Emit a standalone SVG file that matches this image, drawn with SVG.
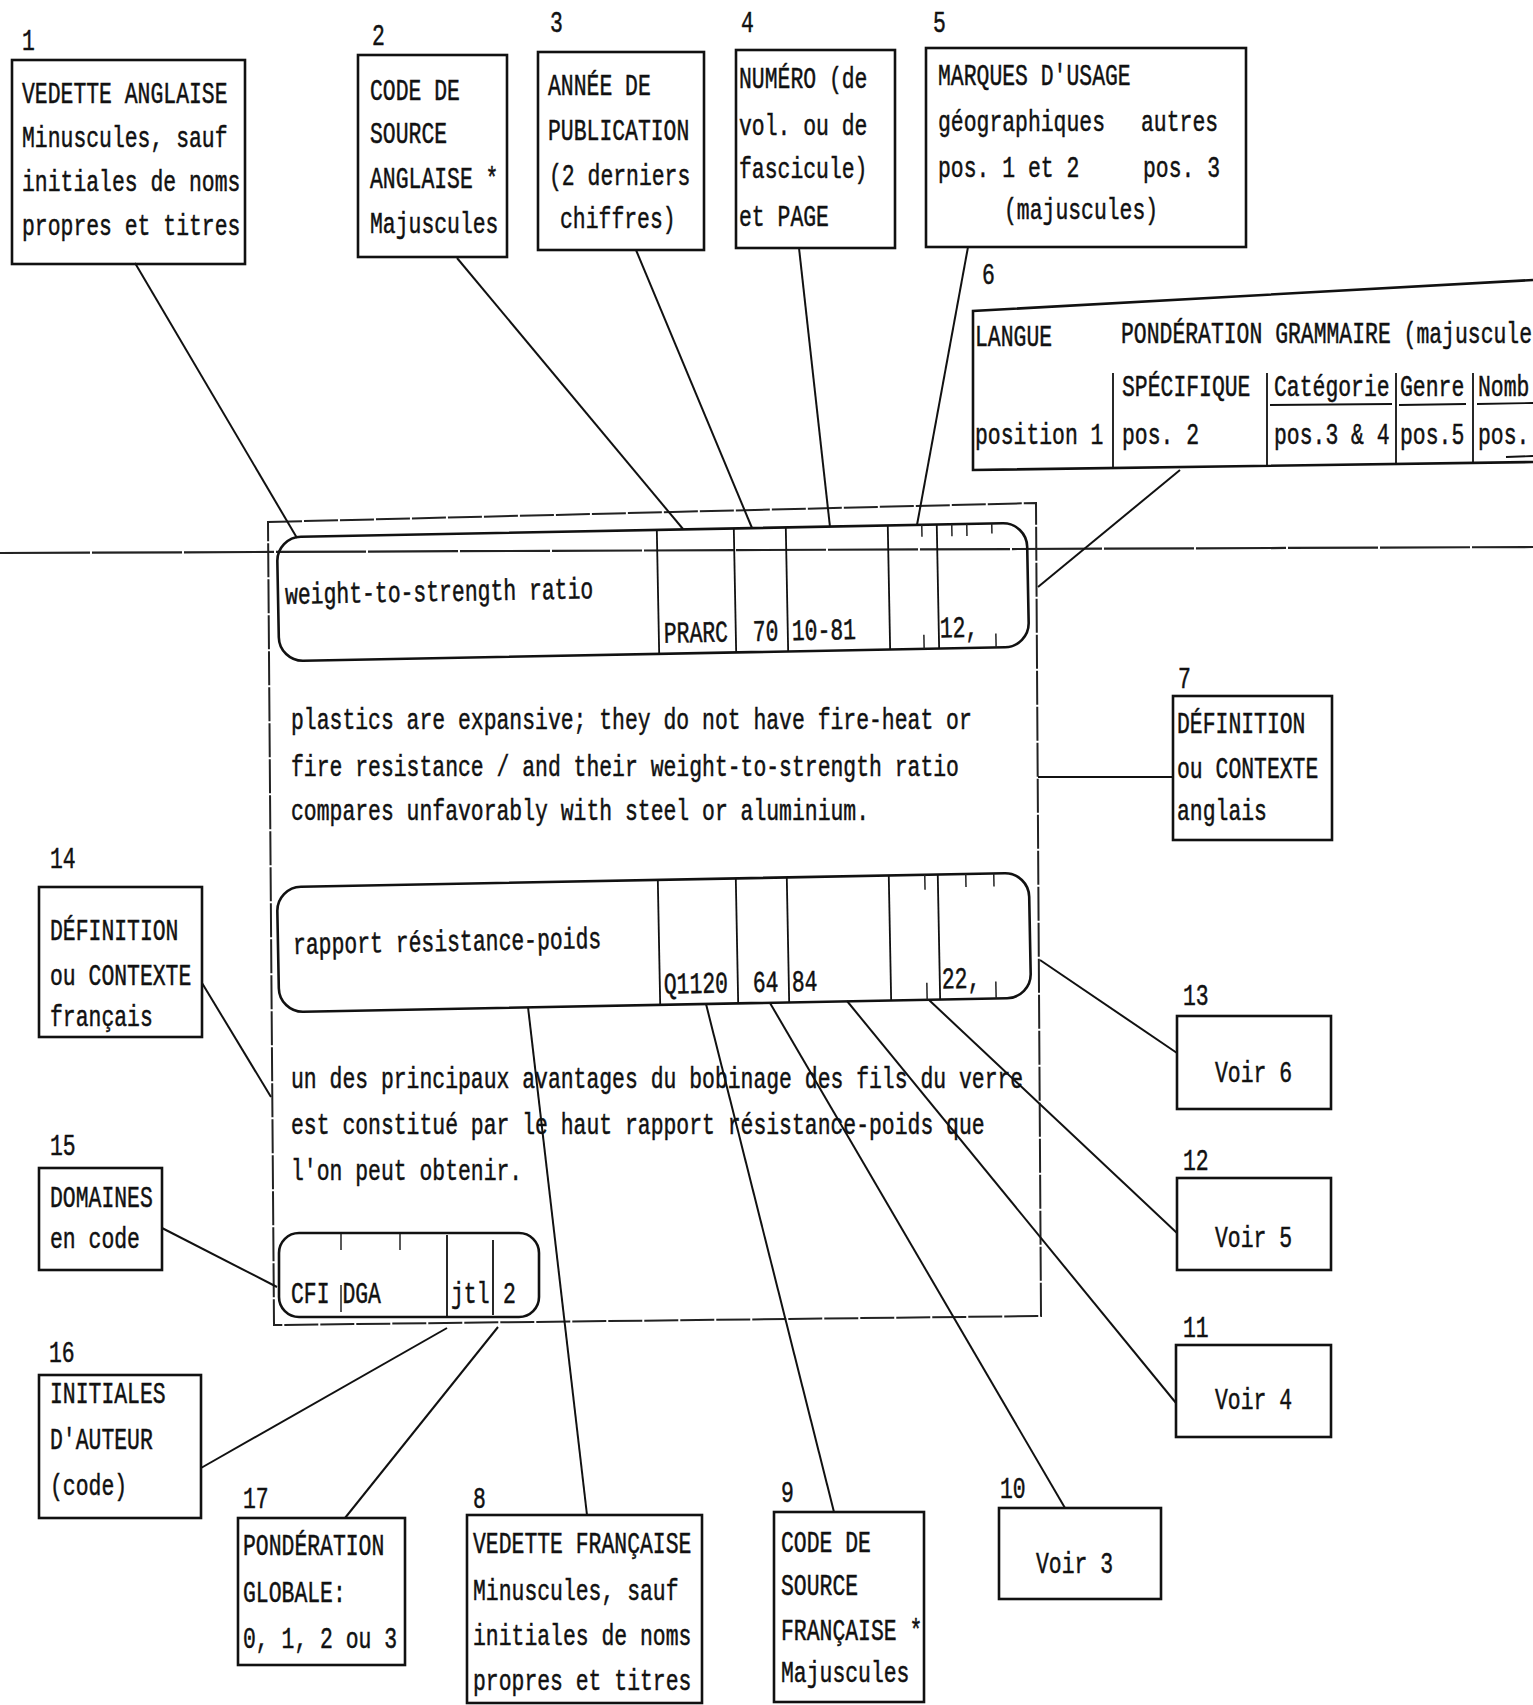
<svg xmlns="http://www.w3.org/2000/svg" width="1533" height="1705" viewBox="0 0 1533 1705">
<style>
.bx{fill:none;stroke:#111;stroke-width:2.6}
.fr{fill:none;stroke:#222;stroke-width:2;stroke-dasharray:34 2}
.dv{stroke:#111;stroke-width:1.8}
.tk{stroke:#222;stroke-width:1.5}
.ln{stroke:#111;stroke-width:2;fill:none}
.pl{stroke:#222;stroke-width:2.2;stroke-dasharray:90 2}
text{font-family:"Liberation Mono","DejaVu Sans Mono",monospace;font-size:30px;fill:#111;stroke:#111;stroke-width:0.5}
</style>
<rect width="1533" height="1705" fill="#fff"/>

<line class="pl" x1="0" y1="553" x2="1533" y2="547"/>
<polygon id="frame" class="fr" points="268,522 1036,503 1041,1316 274,1325"/>

<g id="connectors">
<line class="ln" x1="135" y1="263" x2="297" y2="538"/>
<line class="ln" x1="457" y1="258" x2="683" y2="529"/>
<line class="ln" x1="636" y1="250" x2="752" y2="528"/>
<line class="ln" x1="799" y1="248" x2="830" y2="527"/>
<line class="ln" x1="968" y1="247" x2="917" y2="525"/>
<line class="ln" x1="1180" y1="470" x2="1038" y2="587"/>
<line class="ln" x1="1038" y1="777" x2="1173" y2="777"/>
<line class="ln" x1="1040" y1="960" x2="1177" y2="1053"/>
<line class="ln" x1="929" y1="1000" x2="1177" y2="1233"/>
<line class="ln" x1="847" y1="1001" x2="1176" y2="1403"/>
<line class="ln" x1="770" y1="1003" x2="1065" y2="1508"/>
<line class="ln" x1="706" y1="1004" x2="834" y2="1512"/>
<line class="ln" x1="528" y1="1007" x2="587" y2="1515"/>
<line class="ln" x1="202" y1="983" x2="271" y2="1097"/>
<line class="ln" x1="162" y1="1228" x2="277" y2="1287"/>
<line class="ln" x1="201" y1="1468" x2="447" y2="1328"/>
<line class="ln" x1="345" y1="1518" x2="498" y2="1327"/>
</g>

<g id="n1">
<rect class="bx" x="12" y="60" width="233" height="204"/>
<text transform="translate(22 50) scale(.714 1)">1</text>
<text transform="translate(22 103) scale(.714 1)">VEDETTE ANGLAISE</text>
<text transform="translate(22 147) scale(.714 1)">Minuscules, sauf</text>
<text transform="translate(22 191) scale(.714 1)">initiales de noms</text>
<text transform="translate(22 235) scale(.714 1)">propres et titres</text>
</g>

<g id="n2">
<rect class="bx" x="358" y="55" width="149" height="202"/>
<text transform="translate(372 45) scale(.714 1)">2</text>
<text transform="translate(370 100) scale(.714 1)">CODE DE</text>
<text transform="translate(370 143) scale(.714 1)">SOURCE</text>
<text transform="translate(370 188) scale(.714 1)">ANGLAISE *</text>
<text transform="translate(370 233) scale(.714 1)">Majuscules</text>
</g>

<g id="n3">
<rect class="bx" x="538" y="52" width="166" height="198"/>
<text transform="translate(550 32) scale(.714 1)">3</text>
<text transform="translate(548 95) scale(.714 1)">ANNÉE DE</text>
<text transform="translate(548 140) scale(.714 1)">PUBLICATION</text>
<text transform="translate(549 185) scale(.714 1)">(2 derniers</text>
<text transform="translate(560 228) scale(.714 1)">chiffres)</text>
</g>

<g id="n4">
<rect class="bx" x="736" y="50" width="159" height="198"/>
<text transform="translate(741 32) scale(.714 1)">4</text>
<text transform="translate(739 88) scale(.714 1)">NUMÉRO (de</text>
<text transform="translate(739 135) scale(.714 1)">vol. ou de</text>
<text transform="translate(739 178) scale(.714 1)">fascicule)</text>
<text transform="translate(739 226) scale(.714 1)">et PAGE</text>
</g>

<g id="n5">
<rect class="bx" x="926" y="48" width="320" height="199"/>
<text transform="translate(933 32) scale(.714 1)">5</text>
<text transform="translate(938 85) scale(.714 1)">MARQUES D'USAGE</text>
<text transform="translate(938 131) scale(.714 1)">géographiques</text>
<text transform="translate(1141 131) scale(.714 1)">autres</text>
<text transform="translate(938 177) scale(.714 1)">pos. 1 et 2</text>
<text transform="translate(1143 177) scale(.714 1)">pos. 3</text>
<text transform="translate(1004 219) scale(.714 1)">(majuscules)</text>
</g>

<g id="n6">
<path class="bx" d="M1533,280 L973,311 L973,470 L1533,462"/>
<text transform="translate(982 284) scale(.714 1)">6</text>
<line class="dv" x1="1113" y1="373" x2="1113" y2="469"/>
<line class="dv" x1="1267" y1="373" x2="1267" y2="467"/>
<line class="dv" x1="1396" y1="373" x2="1396" y2="465"/>
<line class="dv" x1="1473" y1="373" x2="1473" y2="464"/>
<line class="dv" x1="1270" y1="405" x2="1392" y2="404"/>
<line class="dv" x1="1399" y1="405" x2="1466" y2="404"/>
<line class="dv" x1="1477" y1="404" x2="1533" y2="403"/>
<line class="dv" x1="1506" y1="457" x2="1533" y2="456"/>
<text transform="translate(975 346) scale(.714 1)">LANGUE</text>
<text transform="translate(1121 343) scale(.714 1)">PONDÉRATION GRAMMAIRE (majuscule</text>
<text transform="translate(1122 396) scale(.714 1)">SPÉCIFIQUE</text>
<text transform="translate(1274 396) scale(.714 1)">Catégorie</text>
<text transform="translate(1400 396) scale(.714 1)">Genre</text>
<text transform="translate(1478 396) scale(.714 1)">Nomb</text>
<text transform="translate(975 444) scale(.714 1)">position 1</text>
<text transform="translate(1122 444) scale(.714 1)">pos. 2</text>
<text transform="translate(1274 444) scale(.714 1)">pos.3 &amp; 4</text>
<text transform="translate(1400 444) scale(.714 1)">pos.5</text>
<text transform="translate(1478 444) scale(.714 1)">pos.</text>
</g>

<g id="field-en" transform="rotate(-1.1 654 592)">
<rect class="bx" x="278" y="530" width="750" height="124" rx="24"/>
<line class="dv" x1="658" y1="530" x2="658" y2="654"/>
<line class="dv" x1="735" y1="530" x2="735" y2="654"/>
<line class="dv" x1="787" y1="530" x2="787" y2="654"/>
<line class="dv" x1="889" y1="530" x2="889" y2="654"/>
<line class="dv" x1="938" y1="530" x2="938" y2="654"/>
<line class="tk" x1="923" y1="530" x2="923" y2="542"/>
<line class="tk" x1="953" y1="530" x2="953" y2="542"/>
<line class="tk" x1="968" y1="530" x2="968" y2="542"/>
<line class="tk" x1="993" y1="530" x2="993" y2="540"/>
<line class="tk" x1="923" y1="640" x2="923" y2="654"/>
<line class="tk" x1="995" y1="640" x2="995" y2="654"/>
<text transform="translate(285 597) scale(.714 1)">weight-to-strength ratio</text>
<text transform="translate(663 643) scale(.714 1)">PRARC</text>
<text transform="translate(752 643) scale(.714 1)">70</text>
<text transform="translate(791 643) scale(.714 1)">10-81</text>
<text transform="translate(939 643) scale(.714 1)">12,</text>
</g>

<g id="context-en">
<text transform="translate(291 729) scale(.714 1)">plastics are expansive; they do not have fire-heat or</text>
<text transform="translate(291 776) scale(.714 1)">fire resistance / and their weight-to-strength ratio</text>
<text transform="translate(291 820) scale(.714 1)">compares unfavorably with steel or aluminium.</text>
</g>

<g id="field-fr" transform="rotate(-1.1 654 942)">
<rect class="bx" x="278" y="880" width="752" height="125" rx="24"/>
<line class="dv" x1="659" y1="880" x2="659" y2="1005"/>
<line class="dv" x1="737" y1="880" x2="737" y2="1005"/>
<line class="dv" x1="788" y1="880" x2="788" y2="1005"/>
<line class="dv" x1="890" y1="880" x2="890" y2="1005"/>
<line class="dv" x1="939" y1="880" x2="939" y2="1005"/>
<line class="tk" x1="926" y1="880" x2="926" y2="895"/>
<line class="tk" x1="967" y1="880" x2="967" y2="893"/>
<line class="tk" x1="995" y1="880" x2="995" y2="893"/>
<line class="tk" x1="926" y1="988" x2="926" y2="1005"/>
<line class="tk" x1="995" y1="988" x2="995" y2="1005"/>
<text transform="translate(293 947) scale(.714 1)">rapport résistance-poids</text>
<text transform="translate(663 994) scale(.714 1)">Q1120</text>
<text transform="translate(752 994) scale(.714 1)">64</text>
<text transform="translate(791 994) scale(.714 1)">84</text>
<text transform="translate(941 994) scale(.714 1)">22,</text>
</g>

<g id="context-fr">
<text transform="translate(291 1088) scale(.714 1)">un des principaux avantages du bobinage des fils du verre</text>
<text transform="translate(291 1134) scale(.714 1)">est constitué par le haut rapport résistance-poids que</text>
<text transform="translate(291 1180) scale(.714 1)">l'on peut obtenir.</text>
</g>

<g id="field-codes">
<rect class="bx" x="279" y="1233" width="260" height="84" rx="20"/>
<line class="dv" x1="447" y1="1235" x2="447" y2="1317"/>
<line class="dv" x1="493" y1="1240" x2="493" y2="1315"/>
<line class="tk" x1="341" y1="1234" x2="341" y2="1250"/>
<line class="tk" x1="400" y1="1234" x2="400" y2="1250"/>
<line class="tk" x1="341" y1="1285" x2="341" y2="1312"/>
<text transform="translate(291 1303) scale(.714 1)">CFI DGA</text>
<text transform="translate(451 1303) scale(.714 1)">jtl</text>
<text transform="translate(503 1303) scale(.714 1)">2</text>
</g>

<g id="n7">
<rect class="bx" x="1173" y="696" width="159" height="144"/>
<text transform="translate(1178 688) scale(.714 1)">7</text>
<text transform="translate(1177 733) scale(.714 1)">DÉFINITION</text>
<text transform="translate(1177 778) scale(.714 1)">ou CONTEXTE</text>
<text transform="translate(1177 820) scale(.714 1)">anglais</text>
</g>

<g id="n13">
<rect class="bx" x="1177" y="1016" width="154" height="93"/>
<text transform="translate(1183 1005) scale(.714 1)">13</text>
<text transform="translate(1215 1082) scale(.714 1)">Voir 6</text>
</g>

<g id="n12">
<rect class="bx" x="1177" y="1178" width="154" height="92"/>
<text transform="translate(1183 1170) scale(.714 1)">12</text>
<text transform="translate(1215 1247) scale(.714 1)">Voir 5</text>
</g>

<g id="n11">
<rect class="bx" x="1176" y="1345" width="155" height="92"/>
<text transform="translate(1183 1337) scale(.714 1)">11</text>
<text transform="translate(1215 1409) scale(.714 1)">Voir 4</text>
</g>

<g id="n10">
<rect class="bx" x="999" y="1508" width="162" height="91"/>
<text transform="translate(1000 1498) scale(.714 1)">10</text>
<text transform="translate(1036 1573) scale(.714 1)">Voir 3</text>
</g>

<g id="n9">
<rect class="bx" x="774" y="1512" width="150" height="190"/>
<text transform="translate(781 1502) scale(.714 1)">9</text>
<text transform="translate(781 1552) scale(.714 1)">CODE DE</text>
<text transform="translate(781 1595) scale(.714 1)">SOURCE</text>
<text transform="translate(781 1640) scale(.714 1)">FRANÇAISE *</text>
<text transform="translate(781 1682) scale(.714 1)">Majuscules</text>
</g>

<g id="n8">
<rect class="bx" x="467" y="1515" width="235" height="188"/>
<text transform="translate(473 1508) scale(.714 1)">8</text>
<text transform="translate(473 1553) scale(.714 1)">VEDETTE FRANÇAISE</text>
<text transform="translate(473 1600) scale(.714 1)">Minuscules, sauf</text>
<text transform="translate(473 1645) scale(.714 1)">initiales de noms</text>
<text transform="translate(473 1690) scale(.714 1)">propres et titres</text>
</g>

<g id="n17">
<rect class="bx" x="238" y="1518" width="167" height="147"/>
<text transform="translate(243 1508) scale(.714 1)">17</text>
<text transform="translate(243 1555) scale(.714 1)">PONDÉRATION</text>
<text transform="translate(243 1602) scale(.714 1)">GLOBALE:</text>
<text transform="translate(243 1648) scale(.714 1)">0, 1, 2 ou 3</text>
</g>

<g id="n16">
<rect class="bx" x="39" y="1375" width="162" height="143"/>
<text transform="translate(49 1362) scale(.714 1)">16</text>
<text transform="translate(50 1403) scale(.714 1)">INITIALES</text>
<text transform="translate(50 1449) scale(.714 1)">D'AUTEUR</text>
<text transform="translate(50 1495) scale(.714 1)">(code)</text>
</g>

<g id="n15">
<rect class="bx" x="39" y="1168" width="123" height="102"/>
<text transform="translate(50 1155) scale(.714 1)">15</text>
<text transform="translate(50 1207) scale(.714 1)">DOMAINES</text>
<text transform="translate(50 1248) scale(.714 1)">en code</text>
</g>

<g id="n14">
<rect class="bx" x="39" y="887" width="163" height="150"/>
<text transform="translate(50 868) scale(.714 1)">14</text>
<text transform="translate(50 940) scale(.714 1)">DÉFINITION</text>
<text transform="translate(50 985) scale(.714 1)">ou CONTEXTE</text>
<text transform="translate(50 1026) scale(.714 1)">français</text>
</g>
</svg>
